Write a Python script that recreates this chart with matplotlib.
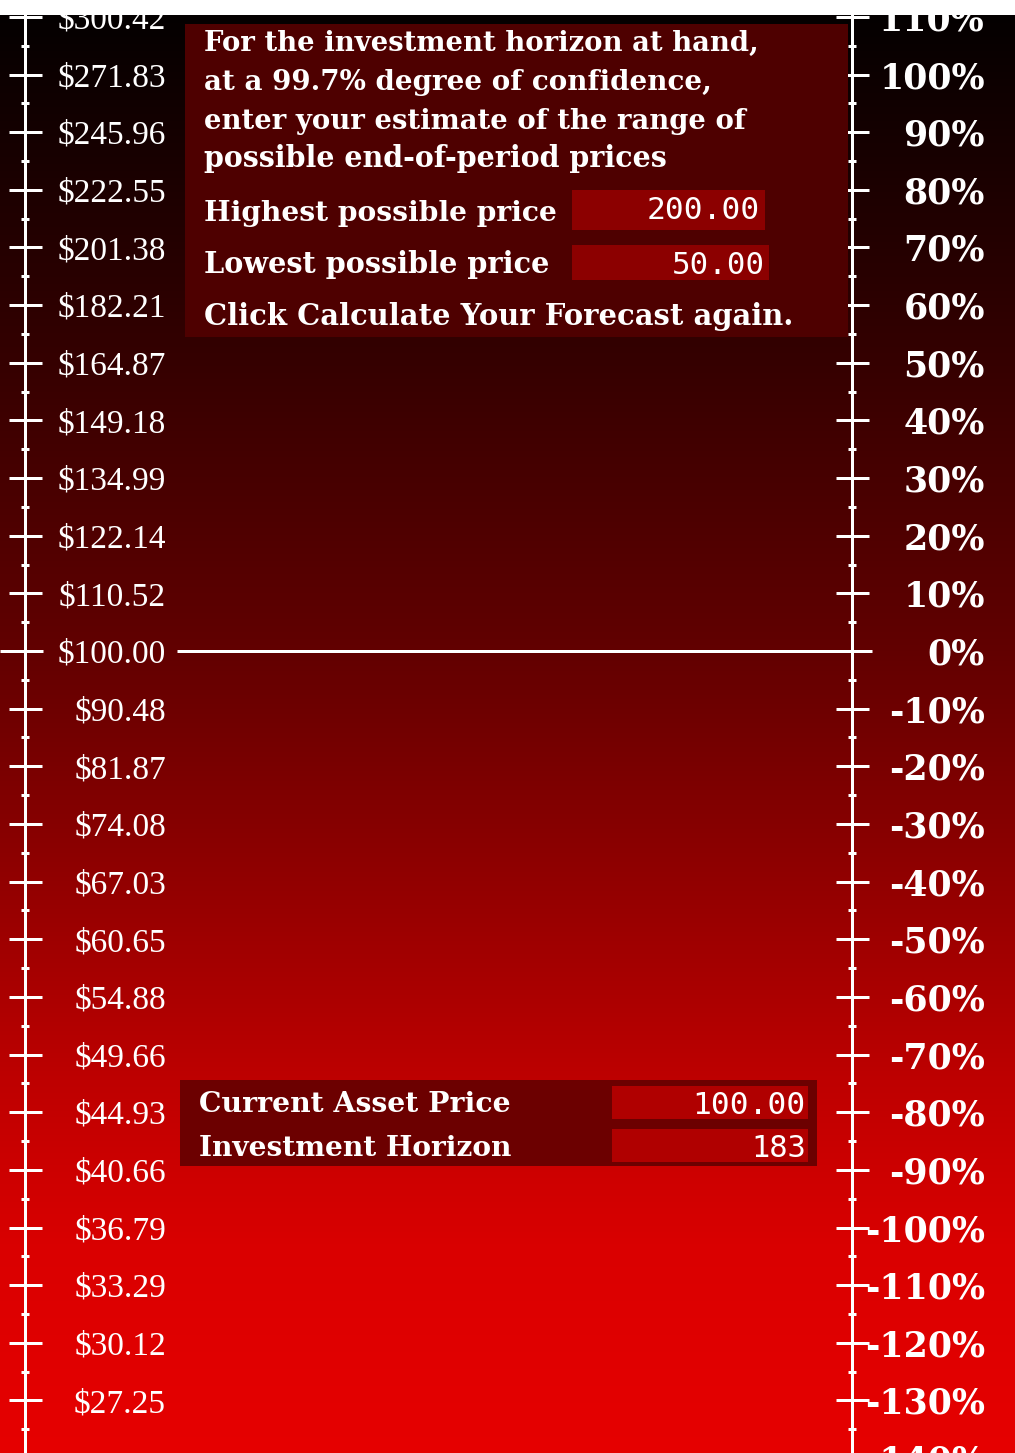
import numpy as np
import matplotlib
matplotlib.use("Agg")
import matplotlib.pyplot as plt
from matplotlib.patches import Rectangle
from matplotlib.ticker import FixedLocator, FixedFormatter

# ---------------- data ----------------
PCT_TICKS = [110, 100, 90, 80, 70, 60, 50, 40, 30, 20, 10, 0,
             -10, -20, -30, -40, -50, -60, -70, -80, -90, -100,
             -110, -120, -130, -140]
PRICE_LABELS = ["$300.42", "$271.83", "$245.96", "$222.55", "$201.38",
                "$182.21", "$164.87", "$149.18", "$134.99", "$122.14",
                "$110.52", "$100.00", "$90.48", "$81.87", "$74.08",
                "$67.03", "$60.65", "$54.88", "$49.66", "$44.93",
                "$40.66", "$36.79", "$33.29", "$30.12", "$27.25"]
PCT_LABELS = [f"{p}%" for p in PCT_TICKS]
MINOR_TICKS = [105, 95, 85, 75, 65, 55, 45, 35, 25, 15, 5, -5, -15, -25,
               -35, -45, -55, -65, -75, -85, -95, -105, -115, -125, -135]

CURRENT_PRICE = 100.00
HORIZON = 183
HIGH_PRICE = 200.00
LOW_PRICE = 50.00

PROMPT_LINES = ["For the investment horizon at hand,",
                "at a 99.7% degree of confidence,",
                "enter your estimate of the range of",
                "possible end-of-period prices"]
HIGH_LABEL = "Highest possible price"
LOW_LABEL = "Lowest possible price"
CLICK_LABEL = "Click Calculate Your Forecast again."
CUR_LABEL = "Current Asset Price"
HOR_LABEL = "Investment Horizon"

# ---------------- layout ----------------
W, H, DPI = 1015, 1453, 100
Y0_PX = 651.0          # pixel row of 0 %
PX_PER_PCT = 5.765
EXT = 40               # axes extend beyond the figure so edge ticks show
YMAX = (Y0_PX + EXT) / PX_PER_PCT
YMIN = -(H + EXT - Y0_PX) / PX_PER_PCT
AX_RECT = [0, -EXT / H, 1, (H + 2 * EXT) / H]
PT = 72.0 / DPI        # points per pixel

fig = plt.figure(figsize=(W / DPI, H / DPI), dpi=DPI)
fig.patch.set_facecolor("white")

# background gradient
axbg = fig.add_axes([0, 0, 1, 1], zorder=0)
axbg.set_axis_off()
rows = np.arange(H)
stops_y = [0, 15, 340, 651, 900, 1080, 1250, 1453]
stops_r = [4, 4, 50, 98, 150, 190, 218, 230]
red = np.interp(rows, stops_y, stops_r) / 255.0
img = np.zeros((H, 1, 3))
img[:, 0, 0] = red
axbg.imshow(img, aspect="auto", extent=[0, W, H, 0], interpolation="bilinear")
axbg.set_xlim(0, W)
axbg.set_ylim(H, 0)

# left axis (prices)
ax = fig.add_axes(AX_RECT, zorder=1)
ax.patch.set_visible(False)
ax.set_xlim(0, W)
ax.set_ylim(YMIN, YMAX)
for s in ["top", "bottom", "right"]:
    ax.spines[s].set_visible(False)
ax.spines["left"].set_position(("data", 25))
ax.spines["left"].set_color("white")
ax.spines["left"].set_linewidth(3 * PT)
ax.xaxis.set_visible(False)
left_labels = PRICE_LABELS + [""] * (len(PCT_TICKS) - len(PRICE_LABELS))
ax.yaxis.set_major_locator(FixedLocator(PCT_TICKS))
ax.yaxis.set_major_formatter(FixedFormatter(left_labels))
ax.yaxis.set_minor_locator(FixedLocator(MINOR_TICKS))
maj_len = 33 * PT
ax.tick_params(axis="y", which="major", direction="inout", length=maj_len,
               width=3 * PT, color="white", labelcolor="white",
               labelsize=24, labelfontfamily="Liberation Serif",
               pad=(25 - 166) * PT - maj_len / 2)
ax.tick_params(axis="y", which="minor", direction="inout", length=8 * PT,
               width=3 * PT, color="white")

# right axis (percent)
ax2 = ax.twinx()
ax2.set_zorder(1)
ax2.patch.set_visible(False)
ax2.set_ylim(YMIN, YMAX)
for s in ["top", "bottom", "left"]:
    ax2.spines[s].set_visible(False)
ax2.spines["right"].set_position(("data", 852))
ax2.spines["right"].set_color("white")
ax2.spines["right"].set_linewidth(3 * PT)
ax2.yaxis.set_major_locator(FixedLocator(PCT_TICKS))
ax2.yaxis.set_major_formatter(FixedFormatter(PCT_LABELS))
ax2.yaxis.set_minor_locator(FixedLocator(MINOR_TICKS))
ax2.tick_params(axis="y", which="major", direction="inout", length=maj_len,
                width=3 * PT, color="white", labelcolor="white",
                labelsize=25, labelfontfamily="DejaVu Serif",
                pad=(985 - 852) * PT - maj_len / 2)
ax2.tick_params(axis="y", which="minor", direction="inout", length=8 * PT,
                width=3 * PT, color="white")
for t in ax2.get_yticklabels():
    t.set_ha("right")
    t.set_fontweight("bold")

# reference line at the current price
ref = 100 * np.log(CURRENT_PRICE / CURRENT_PRICE)
ax.plot([0, 43], [ref, ref], color="white", lw=3 * PT, solid_capstyle="butt")
ax.plot([177, 872], [ref, ref], color="white", lw=3 * PT, solid_capstyle="butt")

# overlay (pixel coordinates) for panels and texts
axo = fig.add_axes([0, 0, 1, 1], zorder=3)
axo.set_axis_off()
axo.set_xlim(0, W)
axo.set_ylim(H, 0)

def box(x0, y0, x1, y1, color):
    axo.add_patch(Rectangle((x0, y0), x1 - x0, y1 - y0, facecolor=color,
                            edgecolor="none"))

box(185, 24, 848, 337, "#4e0000")
box(572, 190, 765, 230, "#8c0000")
box(572, 245, 769, 280, "#8c0000")
box(180, 1080, 817, 1166, "#6c0000")
box(612, 1086, 808, 1119, "#b00000")
box(612, 1129, 808, 1162, "#b00000")
axo.add_patch(Rectangle((0, 0), W, 15, facecolor="white", edgecolor="none",
                        zorder=10))

renderer = fig.canvas.get_renderer()

def fit_text(x, y, s, width, family, weight="bold", ha="left"):
    t = axo.text(x, y, s, fontsize=20, family=family, fontweight=weight,
                 ha=ha, va="baseline", color="white")
    w = t.get_window_extent(renderer).width
    t.set_fontsize(20 * width / w)
    return t

SERIF = "DejaVu Serif"
MONO = "DejaVu Sans Mono"
for line, base, width in zip(PROMPT_LINES, [51, 90, 129, 167],
                             [556, 507, 542, 464]):
    fit_text(204, base, line, width, SERIF)
fit_text(204, 221, HIGH_LABEL, 353, SERIF)
fit_text(204, 273, LOW_LABEL, 346, SERIF)
fit_text(204, 325, CLICK_LABEL, 589, SERIF)
fit_text(199, 1112, CUR_LABEL, 311, SERIF)
fit_text(199, 1156, HOR_LABEL, 313, SERIF)

fit_text(760, 219, f"{HIGH_PRICE:.2f}", 113, MONO, "normal", "right")
fit_text(765, 274, f"{LOW_PRICE:.2f}", 93, MONO, "normal", "right")
fit_text(806, 1114, f"{CURRENT_PRICE:.2f}", 113, MONO, "normal", "right")
fit_text(806, 1157, f"{HORIZON}", 55, MONO, "normal", "right")

fig.savefig("out.png", dpi=DPI, facecolor=fig.get_facecolor())
